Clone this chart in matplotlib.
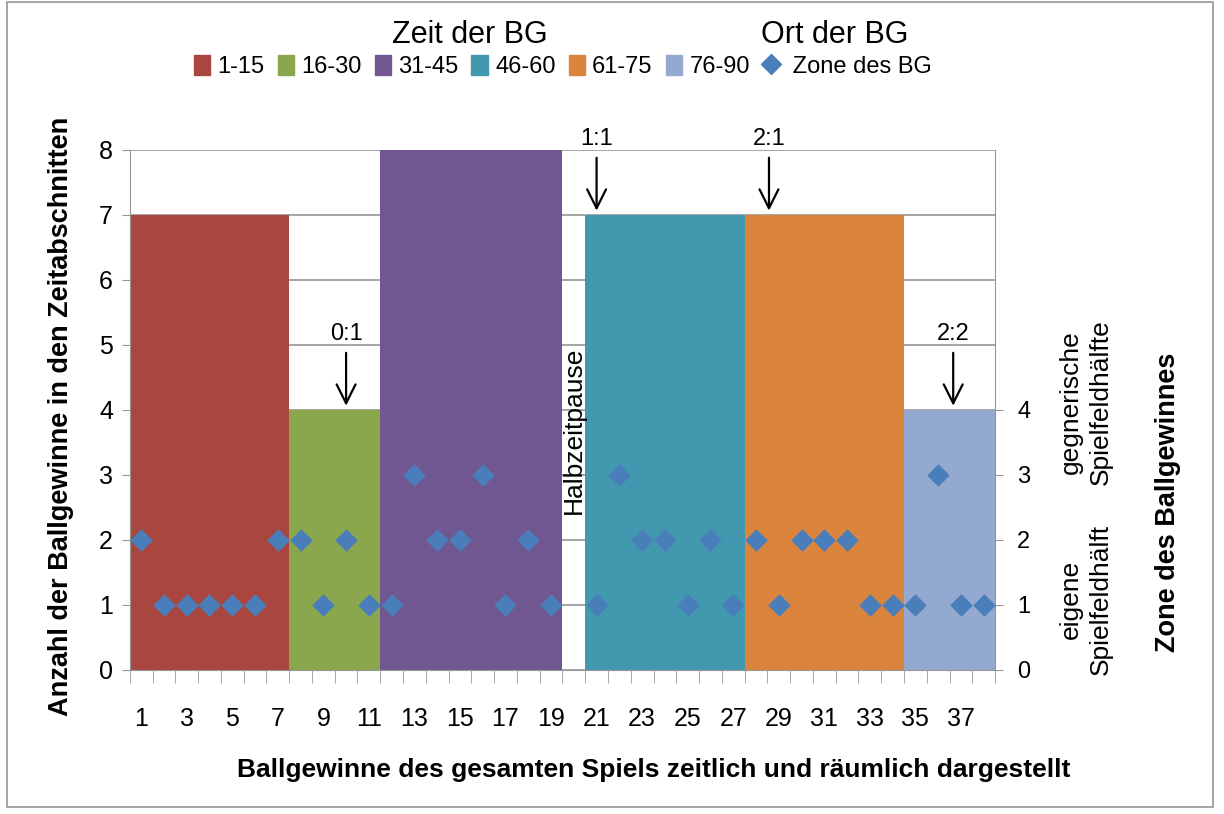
import matplotlib
matplotlib.use("Agg")
import matplotlib.pyplot as plt
from matplotlib.patches import Patch
from matplotlib.lines import Line2D

plt.rcParams['font.family'] = ['Liberation Sans', 'DejaVu Sans']

# time periods of ball gains
period_labels = ["1-15", "16-30", "31-45", "46-60", "61-75", "76-90"]
period_colors = ["#A9463F", "#8BA74E", "#715791", "#4298AF", "#DB843D", "#93A9CF"]
# bar height per ball gain (number of gains in that period), 0 = half-time gap
bar_values = [7] * 7 + [4] * 4 + [8] * 8 + [0] + [7] * 7 + [7] * 7 + [4] * 4
bar_period = [0] * 7 + [1] * 4 + [2] * 8 + [None] + [3] * 7 + [4] * 7 + [5] * 4
categories = list(range(1, 39))

# zone of each ball gain (None = no gain at category 20)
zone_values = [2, 1, 1, 1, 1, 1, 2, 2, 1, 2, 1, 1, 3, 2, 2, 3, 1, 2, 1, None,
               1, 3, 2, 2, 1, 2, 1, 2, 1, 2, 2, 2, 1, 1, 1, 3, 1, 1]

# score annotations: (label, x position, bar top)
score_labels = ["0:1", "1:1", "2:1", "2:2"]
score_x = [10, 21, 28.57, 36.66]
score_y = [4, 7, 7, 4]

fig = plt.figure(figsize=(12.24, 8.14), dpi=100)
ax = fig.add_axes([0.106, 0.177, 0.707, 0.639])

for c, v, p in zip(categories, bar_values, bar_period):
    if p is None:
        continue
    ax.bar(c, v, width=1.0, color=period_colors[p], zorder=2, linewidth=0)

ax.set_xlim(0.5, 38.5)
ax.set_ylim(0, 8)
ax.set_yticks(range(0, 9))
ax.yaxis.grid(True, color="#969696", linewidth=1.2, zorder=1)
ax.set_axisbelow(True)
ax.set_xticks(categories[::2])
ax.set_xticklabels([str(c) for c in categories[::2]])
ax.set_xticks([c + 0.5 for c in range(0, 39)], minor=True)
ax.tick_params(axis="x", which="major", length=0, pad=27, labelsize=18)
ax.tick_params(axis="x", which="minor", length=9, color="#969696", direction="out")
ax.tick_params(axis="y", labelsize=18, length=6, color="#969696", pad=6)
for s in ["top", "right"]:
    ax.spines[s].set_visible(False)
for s in ["left", "bottom"]:
    ax.spines[s].set_color("#969696")
ax.set_ylabel("Anzahl der Ballgewinne in den Zeitabschnitten", fontsize=19.5,
              fontweight="bold")
ax.yaxis.set_label_coords(-0.064, 0.487)
ax.set_xlabel("Ballgewinne des gesamten Spiels zeitlich und räumlich dargestellt",
              fontsize=19, fontweight="bold")
ax.xaxis.set_label_coords(0.605, -0.17)

ax2 = ax.twinx()
xs = [c for c, z in zip(categories, zone_values) if z is not None]
zs = [z for z in zone_values if z is not None]
ax2.scatter(xs, zs, marker="D", s=110, color="#4A7EBB", zorder=5)
ax2.set_ylim(0, 8)
ax2.set_yticks(range(0, 5))
ax2.tick_params(axis="y", labelsize=17, length=6, color="#969696", pad=10)
for s in ["top", "left", "bottom"]:
    ax2.spines[s].set_visible(False)
ax2.spines["right"].set_color("#969696")
ax2.set_zorder(ax.get_zorder() + 1)
ax2.patch.set_visible(False)

ax2.text(1.105, 0.135, "eigene\nSpielfeldhälft", transform=ax.transAxes, rotation=90,
         ha="center", va="center", fontsize=19, multialignment="center", linespacing=1.35)
ax2.text(1.105, 0.515, "gegnerische\nSpielfeldhälfte", transform=ax.transAxes, rotation=90,
         ha="center", va="center", fontsize=19, multialignment="center", linespacing=1.35)
ax2.text(1.2, 0.323, "Zone des Ballgewinnes", transform=ax.transAxes, rotation=90,
         ha="center", va="center", fontsize=19.5, fontweight="bold")

ax.text(20, 3.69, "Halbzeitpause", rotation=90, ha="center", va="center", fontsize=19,
        zorder=6)

for lab, sx, sy in zip(score_labels, score_x, score_y):
    ax.annotate("", xy=(sx, sy + 0.02), xytext=(sx, sy + 0.92),
                arrowprops=dict(arrowstyle="->", color="black", lw=1.6,
                                mutation_scale=34), zorder=6, annotation_clip=False)
    ax.text(sx, sy + 1.0, lab, ha="center", va="bottom", fontsize=17, clip_on=False)

handles = [Patch(color=c) for c in period_colors]
handles.append(Line2D([], [], marker="D", linestyle="none", color="#4A7EBB", markersize=10))
labels = period_labels + [" Zone des BG"]
fig.legend(handles, labels, loc="center", bbox_to_anchor=(0.46, 0.918), ncol=7,
           frameon=False, fontsize=17, handlelength=0.7, handleheight=0.9,
           handletextpad=0.3, columnspacing=0.55)
fig.text(0.384, 0.957, "Zeit der BG", ha="center", va="center", fontsize=22)
fig.text(0.682, 0.957, "Ort der BG", ha="center", va="center", fontsize=22)

fig.patches.append(plt.Rectangle((0.006, 0.008), 0.985, 0.99, transform=fig.transFigure,
                                 fill=False, edgecolor="#969696", linewidth=1.2))

fig.savefig("out.png", dpi=100)
